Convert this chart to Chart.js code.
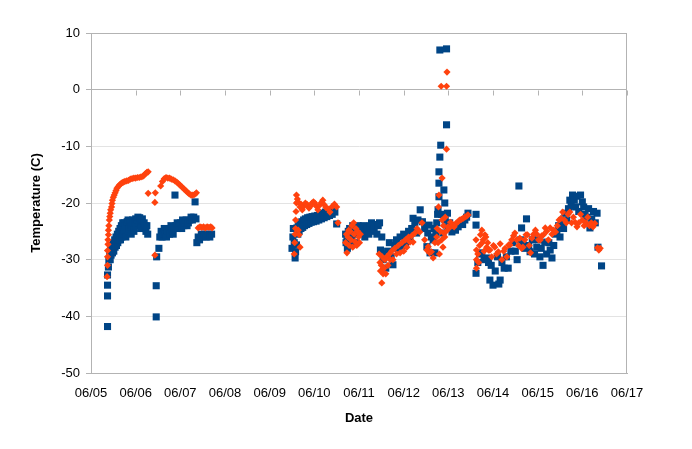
<!DOCTYPE html>
<html>
<head>
<meta charset="utf-8">
<script src="https://cdn.jsdelivr.net/npm/chart.js@4.4.1/dist/chart.umd.min.js"></script>
<style>
  html, body { margin: 0; padding: 0; background: #fff; }
  #wrap { width: 692px; height: 449px; }
</style>
</head>
<body>
<div id="wrap"><canvas id="chart"></canvas></div>
<script>
// x = day of June (decimal), y = temperature in C
const xTickDays = [5, 6, 7, 8, 9, 10, 11, 12, 13, 14, 15, 16, 17];
const yTicks = [-50, -40, -30, -20, -10, 0, 10];

// series 1 (blue squares)
const blueSeries = [
  [5.37,-41.8],[5.37,-36.4],[5.37,-34.5],[5.37,-32.7],[5.39,-31.3],[5.40,-30.0],[5.42,-29.0],[5.43,-30.0],
  [5.44,-28.0],[5.45,-29.2],[5.47,-27.5],[5.48,-28.8],[5.50,-27.0],[5.51,-28.5],[5.53,-26.5],[5.54,-27.8],
  [5.56,-26.0],[5.57,-27.5],[5.59,-25.5],[5.60,-27.0],[5.62,-25.0],[5.63,-26.5],[5.65,-24.5],[5.66,-26.5],
  [5.68,-24.0],[5.69,-26.0],[5.71,-23.5],[5.72,-25.5],[5.74,-23.5],[5.75,-25.0],[5.77,-24.0],[5.78,-26.0],
  [5.80,-24.5],[5.81,-23.3],[5.83,-23.0],[5.84,-25.0],[5.86,-24.5],[5.87,-23.5],[5.89,-24.0],[5.90,-25.5],
  [5.92,-24.0],[5.93,-23.0],[5.95,-23.5],[5.96,-25.0],[5.98,-23.5],[6.00,-22.8],[6.01,-24.0],[6.03,-23.0],
  [6.05,-22.5],[6.07,-23.5],[6.09,-22.6],[6.11,-24.5],[6.13,-23.0],[6.15,-22.8],[6.17,-24.5],[6.19,-23.5],
  [6.21,-24.0],[6.23,-25.0],[6.25,-24.0],[6.27,-25.5],
  [6.46,-40.1],[6.46,-34.6],[6.47,-29.5],[6.52,-28.0],[6.54,-26.0],[6.57,-25.0],[6.59,-26.0],[6.62,-25.5],
  [6.64,-24.5],[6.66,-25.5],[6.69,-26.0],[6.71,-25.0],[6.74,-24.5],[6.76,-25.5],[6.79,-24.0],[6.81,-25.0],
  [6.84,-25.5],[6.86,-24.5],[6.88,-18.6],[6.90,-24.0],[6.93,-23.5],[6.95,-24.5],[6.98,-24.0],[7.00,-23.5],
  [7.03,-24.5],[7.05,-23.0],[7.08,-24.0],[7.10,-23.5],[7.13,-23.0],[7.15,-24.0],[7.18,-23.5],[7.21,-23.0],
  [7.24,-22.5],[7.27,-23.0],[7.30,-22.5],[7.33,-19.8],[7.35,-22.8],[7.37,-27.0],[7.40,-26.0],[7.43,-26.5],
  [7.47,-25.5],[7.50,-26.0],[7.54,-25.5],[7.58,-26.0],[7.62,-25.5],[7.66,-26.0],[7.70,-25.5],
  [9.50,-28.0],[9.52,-26.0],[9.53,-24.5],[9.55,-27.0],[9.57,-29.7],[9.58,-28.6],[9.60,-27.4],[9.61,-24.4],
  [9.63,-25.5],[9.64,-24.0],[9.66,-25.0],[9.68,-23.5],[9.70,-24.5],[9.72,-23.3],[9.74,-24.3],[9.76,-23.0],
  [9.78,-24.0],[9.80,-22.8],[9.83,-23.8],[9.85,-22.6],[9.88,-23.6],[9.90,-22.5],[9.93,-23.4],[9.95,-22.4],
  [9.98,-23.3],[10.01,-22.3],[10.04,-23.2],[10.07,-22.2],[10.10,-23.0],[10.13,-22.0],[10.16,-22.8],[10.19,-21.8],
  [10.22,-22.6],[10.25,-21.6],[10.28,-22.4],[10.31,-21.5],[10.34,-22.2],[10.37,-21.3],[10.40,-22.0],[10.43,-21.1],
  [10.46,-21.6],[10.50,-23.7],
  [10.70,-25.5],[10.71,-27.0],[10.73,-26.0],[10.74,-28.0],[10.76,-25.0],[10.77,-26.5],[10.79,-24.5],[10.80,-27.5],
  [10.82,-25.5],[10.84,-26.5],[10.86,-24.0],[10.88,-25.5],[10.90,-24.5],[10.92,-27.0],[10.95,-25.0],[10.98,-24.0],
  [11.01,-25.5],[11.04,-24.5],[11.07,-25.0],[11.10,-24.0],[11.13,-26.0],[11.16,-25.0],[11.19,-24.5],[11.22,-25.5],
  [11.25,-24.0],[11.28,-23.5],[11.31,-25.0],[11.34,-24.5],[11.37,-23.8],[11.40,-25.5],[11.43,-24.0],[11.46,-23.5],
  [11.48,-28.3],[11.51,-26.0],[11.54,-30.0],[11.57,-29.0],[11.60,-31.5],[11.64,-28.5],[11.68,-27.0],[11.72,-29.5],
  [11.76,-30.9],[11.80,-27.5],[11.84,-26.5],[11.88,-28.0],[11.92,-26.0],[11.96,-27.5],[12.00,-25.5],[12.04,-27.0],
  [12.07,-26.5],[12.11,-25.0],[12.14,-26.0],[12.18,-24.5],[12.21,-22.7],[12.25,-23.5],[12.29,-25.3],[12.32,-23.0],
  [12.37,-21.2],[12.42,-23.3],[12.47,-24.5],[12.52,-27.7],[12.54,-25.3],[12.57,-23.9],[12.59,-28.8],[12.62,-26.0],
  [12.66,-26.5],[12.68,-24.5],[12.70,-28.8],[12.72,-25.5],[12.74,-23.5],[12.76,-22.0],[12.77,-21.2],[12.79,-18.9],
  [12.79,-16.5],[12.79,-14.5],[12.81,7.0],[12.81,-11.9],[12.83,-9.8],[12.85,-22.0],[12.88,-25.3],[12.90,-17.7],
  [12.92,-20.0],[12.93,-23.0],[12.96,7.2],[12.96,-6.2],[12.98,-21.8],[12.99,-24.2],[13.03,-23.5],[13.08,-25.1],
  [13.12,-24.0],[13.16,-24.8],[13.22,-24.2],[13.27,-23.5],[13.32,-23.8],[13.37,-23.0],[13.41,-22.5],[13.44,-21.8],
  [13.62,-22.0],[13.62,-23.9],[13.62,-32.4],[13.66,-30.5],[13.70,-29.0],[13.75,-28.8],[13.80,-30.0],[13.86,-29.7],
  [13.90,-30.5],[13.93,-33.6],[13.96,-31.0],[14.00,-34.5],[14.05,-32.0],[14.10,-29.5],[14.13,-34.3],[14.16,-33.6],
  [14.20,-30.5],[14.25,-31.5],[14.30,-29.5],[14.34,-31.5],[14.40,-28.5],[14.45,-27.0],[14.50,-28.5],[14.54,-30.0],
  [14.58,-17.0],[14.62,-26.5],[14.64,-24.4],[14.67,-26.9],[14.72,-28.0],[14.75,-22.8],[14.80,-27.5],[14.83,-28.6],
  [14.88,-26.5],[14.93,-29.0],[14.98,-27.8],[15.02,-26.5],[15.05,-29.5],[15.08,-28.0],[15.12,-31.0],[15.16,-26.9],
  [15.20,-29.0],[15.25,-27.0],[15.28,-28.3],[15.32,-29.7],[15.36,-27.5],[15.40,-25.5],[15.43,-25.1],[15.47,-24.0],
  [15.50,-26.0],[15.54,-23.5],[15.58,-24.5],[15.61,-21.8],[15.65,-23.0],[15.69,-21.0],[15.72,-19.5],[15.75,-20.5],
  [15.78,-18.6],[15.82,-19.5],[15.85,-20.7],[15.88,-18.8],[15.92,-21.5],[15.96,-18.6],[16.00,-19.8],[16.03,-20.7],
  [16.06,-22.0],[16.10,-22.5],[16.14,-21.0],[16.17,-24.4],[16.21,-22.8],[16.25,-21.5],[16.29,-23.5],[16.33,-21.8],
  [16.35,-27.8],[16.43,-31.1]
];

// series 2 (orange diamonds)
const orangeSeries = [
  [5.36,-33.0],[5.37,-31.0],[5.37,-29.5],[5.37,-28.4],[5.38,-27.3],[5.38,-26.5],[5.39,-25.6],[5.39,-24.8],
  [5.40,-24.0],[5.41,-23.0],[5.42,-22.4],[5.43,-21.8],[5.44,-21.2],[5.46,-20.7],[5.47,-20.1],[5.48,-19.5],
  [5.50,-19.0],[5.52,-18.6],[5.54,-18.2],[5.56,-17.8],[5.58,-17.4],[5.61,-17.1],[5.64,-16.8],[5.67,-16.6],
  [5.70,-16.4],[5.73,-16.3],[5.76,-16.2],[5.80,-16.1],[5.84,-16.0],[5.88,-15.8],[5.92,-15.7],[5.96,-15.6],
  [6.00,-15.6],[6.04,-15.5],[6.08,-15.5],[6.12,-15.4],[6.16,-15.3],[6.19,-15.1],[6.22,-14.8],[6.25,-14.6],
  [6.28,-14.5],[6.28,-18.3],[6.43,-19.9],[6.44,-18.2],[6.43,-29.2],
  [6.56,-17.0],[6.60,-16.2],[6.64,-15.7],[6.68,-15.5],[6.72,-15.6],[6.76,-15.6],[6.80,-15.8],[6.84,-15.9],
  [6.88,-16.1],[6.92,-16.3],[6.96,-16.6],[7.00,-16.9],[7.04,-17.2],[7.08,-17.5],[7.12,-17.8],[7.16,-18.1],
  [7.20,-18.4],[7.24,-18.6],[7.28,-18.6],[7.32,-18.5],[7.36,-18.2],[7.40,-24.4],[7.44,-24.2],[7.48,-24.3],
  [7.52,-24.2],[7.56,-24.4],[7.60,-24.2],[7.64,-24.3],[7.68,-24.2],[7.71,-24.4],
  [9.55,-29.0],[9.56,-27.0],[9.57,-25.5],[9.58,-24.5],[9.58,-23.0],[9.59,-21.5],[9.60,-20.0],[9.60,-18.6],
  [9.62,-19.3],[9.63,-19.8],[9.64,-24.8],[9.66,-25.6],[9.68,-20.7],[9.68,-27.8],[9.70,-20.2],[9.73,-21.2],
  [9.76,-20.6],[9.80,-20.0],[9.84,-20.3],[9.88,-20.9],[9.92,-20.5],[9.95,-20.0],[9.98,-19.8],[10.01,-20.0],
  [10.05,-20.6],[10.08,-21.2],[10.12,-20.4],[10.16,-19.9],[10.19,-19.5],[10.22,-20.3],[10.26,-20.8],[10.30,-21.0],
  [10.35,-21.6],[10.40,-20.6],[10.45,-20.2],[10.50,-20.7],[10.53,-23.5],
  [10.70,-27.0],[10.72,-25.5],[10.73,-28.8],[10.75,-26.0],[10.77,-24.8],[10.78,-27.5],[10.80,-25.0],[10.82,-26.5],
  [10.84,-24.0],[10.86,-27.8],[10.88,-23.5],[10.89,-25.5],[10.91,-26.8],[10.93,-24.5],[10.95,-27.5],[10.97,-25.0],
  [10.99,-26.0],[11.01,-27.0],[11.03,-25.5],
  [11.45,-29.0],[11.47,-30.5],[11.48,-32.0],[11.50,-31.0],[11.51,-34.1],[11.52,-29.5],[11.54,-32.5],[11.56,-31.5],
  [11.58,-30.0],[11.60,-32.5],[11.62,-29.5],[11.65,-31.0],[11.68,-29.0],[11.70,-30.0],[11.73,-28.5],[11.76,-30.0],
  [11.80,-28.0],[11.84,-29.0],[11.88,-27.5],[11.92,-28.8],[11.96,-27.0],[12.00,-28.5],[12.04,-26.5],[12.07,-27.8],
  [12.11,-26.0],[12.14,-26.9],[12.18,-25.8],[12.21,-26.9],[12.25,-25.3],[12.30,-24.5],[12.36,-25.1],
  [12.41,-23.5],[12.47,-26.5],[12.52,-28.3],[12.55,-27.7],[12.58,-28.8],[12.62,-28.6],[12.66,-29.7],[12.70,-27.0],
  [12.74,-26.0],[12.75,-24.5],[12.77,-27.0],[12.78,-20.7],[12.79,-18.6],[12.80,-29.0],[12.82,-25.0],[12.84,0.6],
  [12.85,-26.5],[12.86,-15.6],[12.86,-23.0],[12.88,-27.8],[12.89,-24.0],[12.90,-25.3],[12.92,-26.0],[12.93,-22.5],
  [12.95,-25.0],[12.96,-10.5],[12.96,0.6],[12.97,3.1],[12.99,-24.2],[13.02,-24.4],[13.05,-23.4],[13.09,-24.0],
  [13.13,-24.2],[13.17,-23.6],[13.21,-23.4],[13.25,-23.0],[13.29,-22.9],[13.33,-22.7],[13.37,-22.5],[13.41,-22.3],
  [13.44,-22.1],
  [13.62,-26.5],[13.63,-28.3],[13.63,-30.0],[13.63,-31.5],[13.66,-29.0],[13.68,-30.5],[13.70,-27.5],[13.72,-25.6],
  [13.75,-24.8],[13.76,-27.0],[13.78,-26.5],[13.80,-28.5],[13.82,-25.6],[13.84,-26.0],[13.86,-27.8],[13.88,-27.0],
  [13.90,-28.3],[13.93,-28.3],[13.97,-29.5],[14.01,-27.5],[14.04,-27.8],[14.08,-29.0],[14.12,-28.6],[14.16,-27.2],
  [14.20,-30.0],[14.24,-28.5],[14.27,-28.0],[14.31,-29.5],[14.35,-27.4],[14.38,-27.4],[14.42,-26.5],[14.46,-25.8],
  [14.49,-25.3],[14.53,-26.5],[14.57,-27.5],[14.60,-26.2],[14.64,-28.0],[14.67,-27.8],[14.71,-26.5],[14.74,-25.6],
  [14.77,-25.6],[14.81,-27.5],[14.84,-28.8],[14.87,-26.2],[14.91,-25.5],[14.95,-24.8],[14.98,-25.5],[15.02,-26.5],
  [15.06,-26.5],[15.09,-25.8],[15.13,-25.6],[15.17,-24.4],[15.20,-25.0],[15.24,-26.5],[15.28,-24.4],[15.32,-25.5],
  [15.36,-24.8],[15.40,-25.1],[15.44,-24.0],[15.48,-23.0],[15.52,-22.7],[15.56,-21.6],[15.60,-23.0],[15.64,-23.5],
  [15.68,-22.0],[15.72,-21.6],[15.76,-23.5],[15.80,-22.5],[15.84,-23.4],[15.88,-24.2],[15.92,-23.5],[15.96,-22.0],
  [16.00,-23.0],[16.04,-24.0],[16.08,-23.5],[16.12,-22.5],[16.16,-24.0],[16.20,-23.5],[16.24,-24.2],[16.28,-23.6],
  [16.34,-27.9],[16.37,-28.3],[16.40,-28.0]
];

const AXIS_GREY = '#b3b3b3';
const GRID_GREY = '#e3e3e3';

Chart.defaults.font.family = '"Liberation Sans", Arial, sans-serif';
Chart.defaults.font.size = 13;
Chart.defaults.color = '#000';

// frame round the plot and the little day marks hanging off the 0 line
const framePlugin = {
  id: 'frame',
  beforeDatasetsDraw(chart) {
    const { ctx, chartArea: a, scales } = chart;
    ctx.save();
    ctx.strokeStyle = AXIS_GREY;
    ctx.lineWidth = 1;
    ctx.strokeRect(a.left + 0.5, a.top + 0.5, a.right - a.left - 1, a.bottom - a.top);
    const y0 = Math.round(scales.y.getPixelForValue(0)) + 0.5;
    ctx.beginPath();
    xTickDays.forEach(d => {
      const px = Math.round(scales.x.getPixelForValue(d)) + 0.5;
      ctx.moveTo(px, y0);
      ctx.lineTo(px, y0 + 5);
    });
    ctx.stroke();
    ctx.restore();
  }
};

const toPoints = arr => arr.map(p => ({ x: p[0], y: p[1] }));

new Chart(document.getElementById('chart'), {
  type: 'scatter',
  data: {
    datasets: [
      {
        label: 'Series 2',
        data: toPoints(orangeSeries),
        pointStyle: 'rectRot',
        radius: 3.6,
        backgroundColor: '#ff420e',
        borderWidth: 0,
        order: 0
      },
      {
        label: 'Series 1',
        data: toPoints(blueSeries),
        pointStyle: 'rect',
        radius: 5,
        backgroundColor: '#004586',
        borderWidth: 0,
        order: 1
      }
    ]
  },
  options: {
    responsive: true,
    maintainAspectRatio: false,
    animation: false,
    layout: { padding: { left: 0, top: 33, right: 65, bottom: 0 } },
    plugins: {
      legend: { display: false },
      tooltip: { enabled: false }
    },
    scales: {
      x: {
        type: 'linear',
        min: 5,
        max: 17,
        afterBuildTicks: s => { s.ticks = xTickDays.map(v => ({ value: v })); },
        afterFit: s => { s.height = 76; },
        ticks: {
          autoSkip: false,
          maxRotation: 0,
          padding: 13,
          callback: v => '06/' + String(v).padStart(2, '0')
        },
        grid: { display: false, drawTicks: false },
        border: { color: AXIS_GREY },
        title: {
          display: true,
          text: 'Date',
          font: { weight: 'bold', size: 13 },
          padding: { top: 0, bottom: 23 }
        }
      },
      y: {
        min: -50,
        max: 10,
        afterBuildTicks: s => { s.ticks = yTicks.map(v => ({ value: v })); },
        afterFit: s => { s.width = 91; },
        ticks: { padding: 6 },
        grid: {
          color: c => (c.tick && (c.tick.value === 0 || c.tick.value === 10)) ? AXIS_GREY : GRID_GREY,
          tickColor: AXIS_GREY,
          tickLength: 5
        },
        border: { color: AXIS_GREY },
        title: {
          display: true,
          text: 'Temperature (C)',
          font: { weight: 'bold', size: 13 },
          padding: { top: 29, bottom: 0 }
        }
      }
    }
  },
  plugins: [framePlugin]
});
</script>
</body>
</html>
